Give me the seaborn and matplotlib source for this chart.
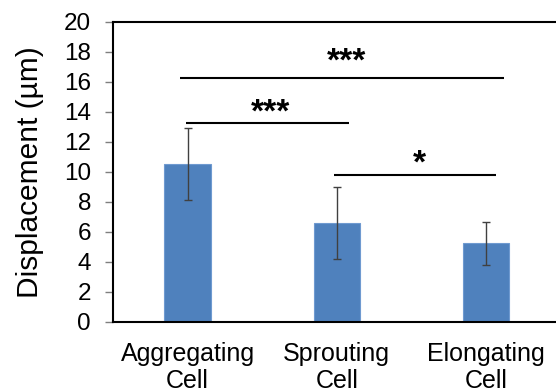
import matplotlib
matplotlib.use('Agg')
import matplotlib.pyplot as plt
import pandas as pd
import seaborn as sns

categories = ['Aggregating\nCell', 'Sprouting\nCell', 'Elongating\nCell']
displacement = [10.5, 6.6, 5.25]
errors = [2.4, 2.4, 1.42]

# significance brackets: (x start, x end, y level, label, label x, label bottom)
sig_start = [-0.05, -0.01, 0.98]
sig_end = [2.12, 1.08, 2.07]
sig_level = [16.25, 13.25, 9.8]
sig_label = ['***', '***', '*']
sig_label_x = [1.067, 0.557, 1.557]
sig_label_y = [17.27, 13.87, 10.47]

sns.set_style('white')
plt.rcParams['font.family'] = ['Liberation Sans', 'DejaVu Sans']
plt.rcParams['text.color'] = 'black'
plt.rcParams['axes.labelcolor'] = 'black'
plt.rcParams['xtick.labelcolor'] = 'black'
plt.rcParams['ytick.labelcolor'] = 'black'


def main():
    df = pd.DataFrame({'cell': categories, 'displacement': displacement})

    fig = plt.figure(figsize=(5.56, 3.92), dpi=100)
    ax = fig.add_axes([0.2032, 0.1786, 0.805, 0.7653])

    sns.barplot(data=df, x='cell', y='displacement', color='#4F81BD',
                saturation=1, width=0.31, errorbar=None, ax=ax,
                edgecolor='#6F9AD0', linewidth=0.8)
    ax.errorbar(range(len(categories)), displacement, yerr=errors, fmt='none',
                ecolor='#404040', elinewidth=1, capsize=3, capthick=1)

    for x0, x1, y, lab, lx, ly in zip(sig_start, sig_end, sig_level, sig_label,
                                      sig_label_x, sig_label_y):
        ax.plot([x0, x1], [y, y], color='black', lw=1.5, solid_capstyle='butt')
        # asterisk glyph sits well above the baseline
        ax.text(lx, ly - 0.5, lab, ha='center', va='baseline',
                fontsize=24, fontweight='bold', color='black')

    ax.set_xlim(-0.5, 2.5)
    ax.set_ylim(0, 20)
    ax.set_yticks(range(0, 21, 2))
    ax.tick_params(axis='y', which='major', left=True, length=5.8, width=1,
                   color='#7f7f7f', labelsize=17.5, pad=10)
    ax.tick_params(axis='x', bottom=False, labelsize=18, pad=11)
    for lab in ax.get_xticklabels():
        lab.set_linespacing(1.13)

    for side in ['left', 'bottom', 'top', 'right']:
        ax.spines[side].set_color('black')
        ax.spines[side].set_linewidth(1.5)

    ax.set_xlabel('')
    ax.set_ylabel('Displacement (µm)', fontsize=21.5, labelpad=14)

    fig.savefig('out.png', dpi=100)


if __name__ == '__main__':
    main()
